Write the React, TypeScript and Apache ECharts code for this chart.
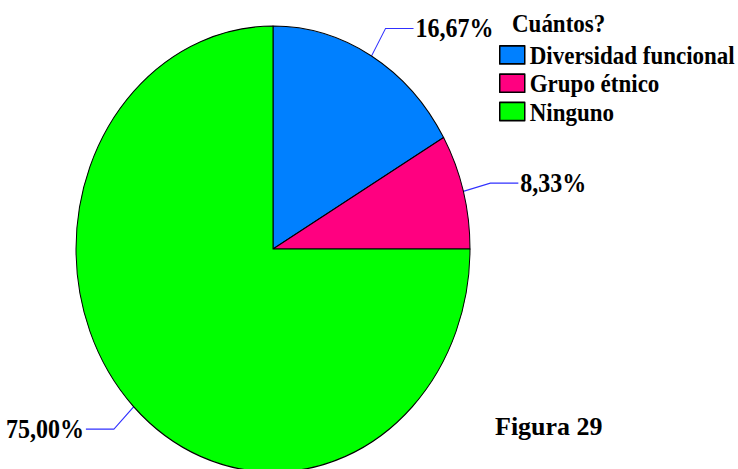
import React, { useEffect, useRef } from "react";
import * as echarts from "echarts";

const categories = ["Diversidad funcional", "Grupo étnico", "Ninguno"];
const percentages = [16.67, 8.33, 75.0];
const colors = ["#0080FF", "#FF0080", "#00FF00"];
const legendTitle = "Cuántos?";
const figureCaption = "Figura 29";

// the reference is vertically stretched
const STRETCH = 1.132;
const W = 738;
const H = Math.ceil(469 / STRETCH);
const FONT = "Liberation Serif";

export default function App() {
  const ref = useRef<HTMLDivElement>(null);
  useEffect(() => {
    if (!ref.current) return;
    const chart = echarts.init(ref.current, undefined, { renderer: "svg" });
    chart.setOption({
      animation: false,
      backgroundColor: "#ffffff",
      title: {
        text: legendTitle,
        left: 512,
        top: 8,
        padding: 0,
        textStyle: {
          fontFamily: FONT,
          fontWeight: "bold",
          fontSize: 23,
          lineHeight: 24,
          color: "#000",
        },
      },
      legend: {
        orient: "vertical",
        left: 499,
        top: 37,
        padding: 0,
        selectedMode: false,
        itemWidth: 25,
        itemHeight: 16,
        itemGap: 2,
        icon: "rect",
        itemStyle: { borderColor: "#000", borderWidth: 1.5 },
        textStyle: {
          fontFamily: FONT,
          fontWeight: "bold",
          fontSize: 23,
          lineHeight: 20,
          color: "#000",
        },
        data: categories,
      },
      graphic: [
        {
          type: "text",
          x: 495,
          y: 427 / STRETCH,
          scaleY: 1 / STRETCH,
          style: {
            text: figureCaption,
            fontFamily: FONT,
            fontWeight: "bold",
            fontSize: 26,
            fill: "#000",
            verticalAlign: "middle",
            align: "left",
          },
        },
      ],
      series: [
        {
          type: "pie",
          center: [273, 220],
          radius: 197,
          startAngle: 90,
          clockwise: true,
          avoidLabelOverlap: false,
          itemStyle: { borderColor: "#000", borderWidth: 1 },
          label: {
            show: true,
            position: "outside",
            distanceToLabelLine: 2,
            fontFamily: FONT,
            fontWeight: "bold",
            fontSize: 24,
            color: "#000",
            formatter: (p: any) => p.value.toFixed(2).replace(".", ",") + "%",
          },
          labelLine: {
            show: true,
            length: 28,
            length2: 28,
            lineStyle: { color: "#3030ff", width: 1 },
          },
          emphasis: { disabled: true },
          data: categories.map((name, i) => ({
            name,
            value: percentages[i],
            itemStyle: { color: colors[i] },
          })),
        },
      ],
    });
    return () => chart.dispose();
  }, []);
  return (
    <div
      ref={ref}
      style={{
        position: "absolute",
        left: 0,
        top: 0,
        width: W,
        height: H,
        transform: `scaleY(${STRETCH})`,
        transformOrigin: "top left",
        background: "#fff",
      }}
    />
  );
}
